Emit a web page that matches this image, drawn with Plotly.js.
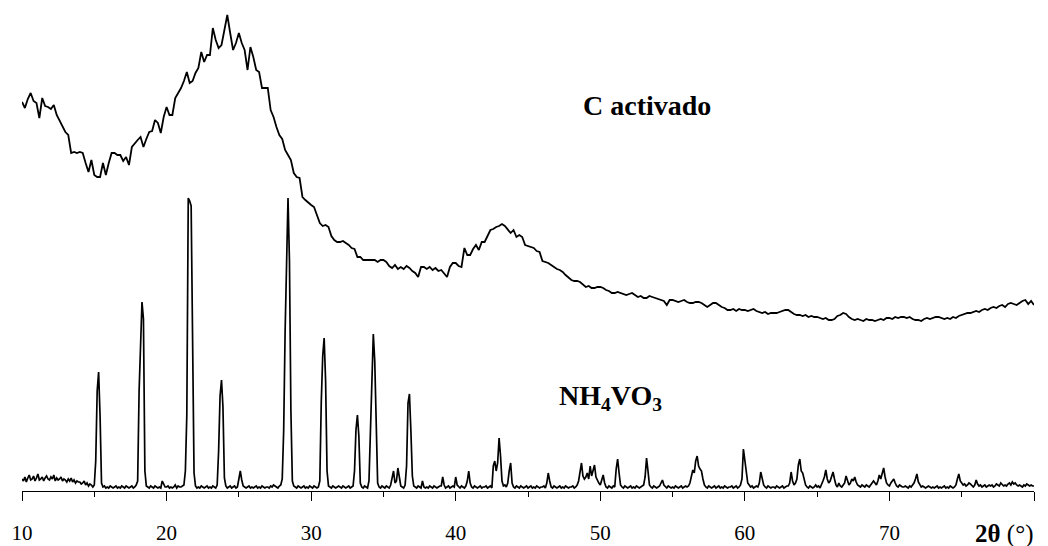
<!DOCTYPE html>
<html>
<head>
<meta charset="utf-8">
<script src="https://cdn.plot.ly/plotly-3.0.1.min.js"></script>
<style>html,body{margin:0;padding:0;background:#fff;}#chart{width:1048px;height:546px;}</style>
</head>
<body>
<div id="chart"></div>
<script>
// 2θ sampling grids (degrees)
const cStart = 10, cStep = 0.2;
const nStart = 10, nStep = 0.1;

// Intensity (arbitrary units, offset traces as in the figure)
// C activado, one row per degree: d.0 d.2 d.4 d.6 d.8
const cActivado = [
 389,383,392,398,390,
 388,373,393,385,384,
 382,386,376,370,364,
 359,356,338,339,338,
 339,338,328,319,331,
 316,314,314,328,316,
 328,338,338,336,336,
 330,334,326,344,348,
 351,354,344,352,359,
 360,371,368,358,374,
 384,376,376,393,398,
 403,410,419,408,410,
 418,423,439,429,436,
 436,463,451,443,446,
 461,476,458,441,448,
 458,448,441,421,444,
 434,421,419,403,403,
 403,381,374,364,356,
 352,341,336,331,318,
 314,313,294,291,288,
 286,284,276,268,265,
 266,264,255,251,249,
 249,250,248,246,243,
 242,234,234,231,231,
 231,231,231,229,231,
 231,229,225,223,226,
 222,224,222,225,223,
 220,218,214,224,224,
 222,224,221,223,220,
 221,217,214,224,228,
 228,225,224,243,236,
 236,242,246,241,249,
 249,255,261,262,264,
 265,267,265,262,258,
 261,254,256,254,246,
 245,244,243,240,239,
 230,229,228,226,224,
 222,221,219,216,213,
 211,210,210,209,206,
 204,205,203,203,204,
 204,203,201,200,198,
 198,199,198,197,196,
 197,198,196,194,195,
 193,193,195,194,193,
 192,191,190,186,191,
 191,190,189,190,191,
 189,188,188,189,189,
 188,186,184,186,188,
 188,186,184,183,181,
 181,182,180,182,181,
 181,180,181,182,180,
 179,178,179,177,178,
 178,178,179,180,181,
 181,179,177,176,176,
 175,176,174,175,174,
 174,173,172,173,171,
 171,172,175,176,178,
 177,174,172,171,172,
 171,170,172,171,171,
 170,171,172,171,173,
 173,172,174,173,174,
 174,173,174,172,171,
 171,170,172,173,172,
 173,174,174,173,172,
 173,172,174,173,175,
 176,177,178,178,179,
 180,179,181,182,181,
 183,184,183,185,186,
 184,187,188,187,186,
 188,190,191,187,190,
 186
];

// NH4VO3, one row per degree: d.0 ... d.9
const nh4vo3 = [
 12,10,14,9,13,16,11,12,15,10,
 13,17,11,12,14,10,13,15,12,11,
 14,12,16,10,13,11,12,14,10,12,
 11,9,12,10,13,9,11,8,10,9,
 9,7,8,10,6,8,5,7,6,4,
 6,30,100,119,75,8,4,5,3,4,
 3,5,4,3,4,5,3,4,3,5,
 4,3,5,4,3,4,5,3,4,6,
 10,100,160,189,172,20,5,4,3,5,
 4,3,5,4,3,4,3,10,6,4,
 4,5,3,4,3,4,6,3,5,4,
 4,5,6,20,76,293,290,285,110,18,
 5,3,4,3,5,4,3,4,5,3,
 4,3,5,4,3,6,40,95,111,84,
 13,5,3,4,5,3,4,5,3,4,
 12,20,11,5,4,3,4,5,3,4,
 3,4,5,3,4,3,5,4,3,4,
 4,3,5,4,6,5,4,3,5,6,
 12,60,160,240,293,230,80,10,5,4,
 3,5,4,3,4,5,3,4,3,5,
 4,3,5,4,3,4,10,89,135,153,
 110,20,5,4,3,5,4,3,4,5,
 4,3,5,4,3,4,5,3,4,5,
 20,61,76,55,8,4,3,5,4,3,
 10,60,100,157,130,60,8,4,3,5,
 4,3,5,4,3,6,15,20,8,10,
 23,12,5,4,3,6,25,88,97,60,
 15,5,4,3,5,4,3,10,4,3,
 4,3,5,4,3,5,4,3,4,5,
 5,14,6,3,4,5,3,4,5,4,
 14,6,4,3,5,4,3,5,10,20,
 8,4,3,5,4,3,4,5,3,4,
 4,5,3,4,5,3,25,30,20,28,
 53,35,10,5,6,4,8,20,28,8,
 4,3,5,4,3,5,4,3,4,5,
 3,4,5,3,4,3,5,4,3,4,
 4,5,3,8,18,10,4,3,5,4,
 3,4,5,3,4,3,5,4,3,4,
 4,5,3,4,6,10,22,28,15,12,
 14,18,12,25,15,20,26,14,10,8,
 6,10,16,8,4,3,5,4,3,5,
 4,22,32,18,6,4,3,5,4,3,
 4,5,3,4,3,5,4,3,4,5,
 6,14,33,20,6,4,3,5,4,3,
 4,5,8,11,6,4,3,5,4,3,
 4,3,5,4,3,4,5,3,4,5,
 4,5,8,15,21,18,30,35,25,22,
 20,12,6,4,3,5,4,3,4,5,
 3,4,5,3,4,3,5,4,3,4,
 4,5,3,4,5,3,4,6,12,42,
 30,16,8,6,4,5,3,4,5,4,
 8,19,12,6,4,3,5,4,3,4,
 4,3,5,4,3,4,5,3,4,5,
 5,8,19,10,6,8,12,26,32,20,
 18,10,6,4,3,5,4,3,4,6,
 4,5,3,6,10,14,21,12,8,10,
 14,19,12,6,4,8,5,4,6,8,
 15,10,6,8,12,10,14,9,6,5,
 4,6,5,4,6,5,4,6,8,10,
 8,6,10,16,12,18,23,14,8,6,
 5,8,10,12,8,5,4,6,5,4,
 4,5,4,3,5,4,6,8,12,17,
 9,6,4,5,4,3,4,5,4,3,
 4,3,4,5,3,4,3,4,5,3,
 4,3,5,4,3,4,6,12,17,10,
 8,6,7,5,6,8,7,5,4,6,
 11,7,5,6,4,5,6,4,5,6,
 5,6,4,5,7,6,5,8,6,5,
 6,5,7,8,6,9,7,8,6,5,
 6,5,4,6,5,7,6,5,6,5,
 5
];

const tickVals = [10,20,30,40,50,60,70,80];
const tickText = ['10','20','30','40','50','60','70',''];
const labelC = 'C activado';
const labelN = 'NH<sub>4</sub>VO<sub>3</sub>';
const axisLabel = '<b>2θ</b> (°)';

const xC = cActivado.map((_, i) => +(cStart + i * cStep).toFixed(2));
const xN = nh4vo3.map((_, i) => +(nStart + i * nStep).toFixed(2));

const serif = '"Liberation Serif", "Times New Roman", serif';

const traces = [
  {x: xC, y: cActivado, type: 'scatter', mode: 'lines', line: {color: '#000', width: 1.8}, hoverinfo: 'skip'},
  {x: xN, y: nh4vo3, type: 'scatter', mode: 'lines', line: {color: '#000', width: 1.7}, hoverinfo: 'skip'}
];

const layout = {
  width: 1048, height: 546,
  margin: {l: 22, r: 14, t: 0, b: 55, pad: 0},
  paper_bgcolor: '#fff', plot_bgcolor: '#fff',
  showlegend: false,
  xaxis: {
    range: [10, 80], showgrid: false, zeroline: false,
    showline: true, linecolor: '#000', linewidth: 1,
    tickmode: 'array', tickvals: tickVals, ticktext: tickText,
    ticks: 'outside', ticklen: 9, tickwidth: 1, tickcolor: '#000',
    ticklabelstandoff: 14,
    tickfont: {family: serif, size: 21, color: '#000'},
    minor: {tick0: 15, dtick: 10, ticks: 'outside', ticklen: 5, tickwidth: 1, tickcolor: '#000', showgrid: false}
  },
  yaxis: {range: [0, 491], visible: false, fixedrange: true},
  annotations: [
    {text: labelC, x: 53.2, y: 386, xref: 'x', yref: 'y', showarrow: false, xanchor: 'center', yanchor: 'middle',
     font: {family: serif, size: 28, color: '#000', weight: 'bold'}},
    {text: labelN, x: 50.7, y: 94, xref: 'x', yref: 'y', showarrow: false, xanchor: 'center', yanchor: 'middle',
     font: {family: serif, size: 28, color: '#000', weight: 'bold'}},
    {text: axisLabel, x: 77.9, y: -0.088, xref: 'x', yref: 'paper', showarrow: false, xanchor: 'center', yanchor: 'middle',
     font: {family: serif, size: 25, color: '#000'}}
  ]
};

Plotly.newPlot('chart', traces, layout, {staticPlot: true, displayModeBar: false});
</script>
</body>
</html>
